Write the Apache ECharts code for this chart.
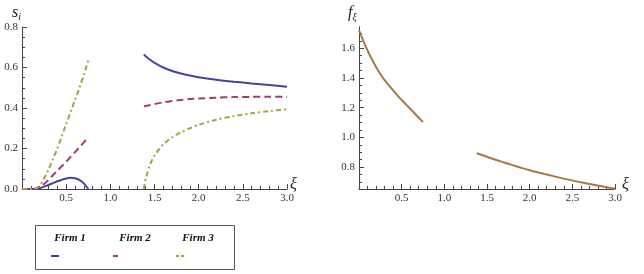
<!DOCTYPE html>
<html><head><meta charset="utf-8">
<script src="https://cdn.jsdelivr.net/npm/echarts@6/dist/echarts.min.js"></script>
<style>html,body{margin:0;background:#fff}#c{width:644px;height:274px}</style></head>
<body><div id="c"></div><script>
// ---- data ----
const xA = [0,0.05,0.1,0.15,0.2,0.25,0.3,0.35,0.4,0.45,0.5,0.55,0.6,0.65,0.7,0.75];
const xB = [1.38,1.4,1.45,1.5,1.6,1.7,1.8,1.9,2.0,2.2,2.4,2.6,2.8,3.0];
const firm1A = [0,0,0,0,0.004,0.012,0.02,0.029,0.038,0.046,0.052,0.055,0.053,0.045,0.028,0];
const firm2A = [0,0,0,0.001,0.01,0.025,0.045,0.068,0.09,0.112,0.134,0.158,0.182,0.206,0.23,0.255];
const firm3A = [0,0,0,0.001,0.018,0.052,0.097,0.148,0.2,0.26,0.32,0.38,0.44,0.5,0.565,0.635];
const firm1B = [0.665,0.656,0.638,0.623,0.6,0.583,0.57,0.56,0.552,0.54,0.53,0.521,0.513,0.505];
const firm2B = [0.408,0.41,0.415,0.42,0.428,0.435,0.44,0.444,0.447,0.451,0.454,0.455,0.456,0.456];
const firm3B = [0,0.05,0.12,0.165,0.22,0.255,0.28,0.3,0.317,0.342,0.36,0.374,0.385,0.394];
const fA = [1.72,1.65,1.585,1.527,1.474,1.427,1.385,1.35,1.316,1.283,1.252,1.222,1.192,1.162,1.132,1.102];
const fB = [0.893,0.889,0.879,0.869,0.849,0.831,0.813,0.795,0.778,0.749,0.722,0.697,0.675,0.654];
const firmNames = ['Firm 1','Firm 2','Firm 3'];
const rightYMajor = [0.8,1.0,1.2,1.4,1.6];
const rightYMinor = [0.7,0.75,0.85,0.9,0.95,1.05,1.1,1.15,1.25,1.3,1.35,1.45,1.5,1.55,1.65,1.7];

// ---- styling ----
const SERIF = 'Liberation Serif';
const C1 = '#4444a4', C2 = '#a23d70', C3 = '#a4a340', CF = '#a87845';
const axisCol = '#444';
const lab = {fontFamily: SERIF, fontSize: 11, color: '#333', margin: 4};
const pair = (xs, ys) => xs.map((x, i) => [x, ys[i]]);
const fmt1 = v => (v === 0 ? '' : v.toFixed(1));

function xAxisCfg(gi) {
  return {type: 'value', gridIndex: gi, min: 0, max: 3, interval: 0.5,
    axisLine: {lineStyle: {color: axisCol, width: 1}},
    axisTick: {inside: true, length: 5, lineStyle: {color: axisCol}},
    minorTick: {show: true, splitNumber: 5, length: 3, lineStyle: {color: axisCol}},
    axisLabel: Object.assign({formatter: fmt1}, lab),
    splitLine: {show: false}, minorSplitLine: {show: false}};
}
function line(xi, yi, data, color, dash) {
  return {type: 'line', xAxisIndex: xi, yAxisIndex: yi, data, symbol: 'none', smooth: 0.3,
    lineStyle: {color, width: 2, type: dash || 'solid'}, silent: true, animation: false};
}
const D2 = [7, 4], D3 = [5, 3, 2, 3];

const chart = echarts.init(document.getElementById('c'));
chart.setOption({
  animation: false,
  grid: [
    {left: 22, top: 27, width: 265, height: 162},
    {left: 359, top: 27, width: 256, height: 162}
  ],
  xAxis: [xAxisCfg(0), xAxisCfg(1)],
  yAxis: [
    {type: 'value', gridIndex: 0, min: 0, max: 0.8, interval: 0.2,
      axisLine: {show: true, lineStyle: {color: axisCol}},
      axisTick: {show: true, inside: true, length: 5, lineStyle: {color: axisCol}},
      minorTick: {show: true, splitNumber: 4, length: 3, lineStyle: {color: axisCol}},
      axisLabel: Object.assign({formatter: v => v.toFixed(1)}, lab),
      splitLine: {show: false}, minorSplitLine: {show: false}},
    {type: 'value', gridIndex: 1, position: 'left', min: 0.652, max: 1.743,
      axisLine: {show: true, lineStyle: {color: axisCol}},
      axisTick: {show: true, inside: true, length: 5, customValues: rightYMajor, lineStyle: {color: axisCol}},
      axisLabel: Object.assign({customValues: rightYMajor, formatter: v => v.toFixed(1)}, lab),
      splitLine: {show: false}},
    {type: 'value', gridIndex: 1, position: 'left', offset: 0, min: 0.652, max: 1.743,
      axisLine: {show: true, lineStyle: {color: axisCol}},
      axisTick: {show: true, inside: true, length: 3, customValues: rightYMinor, lineStyle: {color: axisCol}},
      axisLabel: {show: false}, splitLine: {show: false}}
  ],
  series: [
    line(0, 0, pair(xA, firm1A), C1), line(0, 0, pair(xB, firm1B), C1),
    line(0, 0, pair(xA, firm2A), C2, D2), line(0, 0, pair(xB, firm2B), C2, D2),
    line(0, 0, pair(xA, firm3A), C3, D3), line(0, 0, pair(xB, firm3B), C3, D3),
    line(1, 1, pair(xA, fA), CF), line(1, 1, pair(xB, fB), CF)
  ],
  graphic: [
    {type: 'text', left: 12, top: 5, style: {text: '{s|s}{i|i}', rich: {
      s: {fontFamily: SERIF, fontStyle: 'italic', fontSize: 16, fill: '#222'},
      i: {fontFamily: SERIF, fontStyle: 'italic', fontSize: 10, fill: '#222', padding: [8, 0, 0, 0]}}}},
    {type: 'text', left: 348, top: 5, style: {text: '{s|f}{i|ξ}', rich: {
      s: {fontFamily: SERIF, fontStyle: 'italic', fontSize: 16, fill: '#222'},
      i: {fontFamily: SERIF, fontStyle: 'italic', fontSize: 10, fill: '#222', padding: [8, 0, 0, 0]}}}},
    {type: 'text', left: 290, top: 177, style: {text: 'ξ', fontFamily: SERIF, fontStyle: 'italic', fontSize: 16, fill: '#222'}},
    {type: 'text', left: 622, top: 177, style: {text: 'ξ', fontFamily: SERIF, fontStyle: 'italic', fontSize: 16, fill: '#222'}},
    {type: 'rect', shape: {x: 35.5, y: 225.5, width: 199, height: 44}, style: {fill: '#fff', stroke: '#555', lineWidth: 1}},
    {type: 'text', x: 70, y: 238, style: {text: firmNames[0], fontFamily: SERIF, fontStyle: 'italic', fontWeight: 'bold', fontSize: 11, fill: '#111', align: 'center', verticalAlign: 'middle'}},
    {type: 'text', x: 135, y: 238, style: {text: firmNames[1], fontFamily: SERIF, fontStyle: 'italic', fontWeight: 'bold', fontSize: 11, fill: '#111', align: 'center', verticalAlign: 'middle'}},
    {type: 'text', x: 198, y: 238, style: {text: firmNames[2], fontFamily: SERIF, fontStyle: 'italic', fontWeight: 'bold', fontSize: 11, fill: '#111', align: 'center', verticalAlign: 'middle'}},
    {type: 'line', shape: {x1: 51, y1: 256, x2: 59, y2: 256}, style: {stroke: C1, lineWidth: 2}},
    {type: 'line', shape: {x1: 113, y1: 256, x2: 118, y2: 256}, style: {stroke: C2, lineWidth: 2}},
    {type: 'line', shape: {x1: 176, y1: 256, x2: 186, y2: 256}, style: {stroke: C3, lineWidth: 2, lineDash: [3, 2]}}
  ]
});
</script></body></html>
